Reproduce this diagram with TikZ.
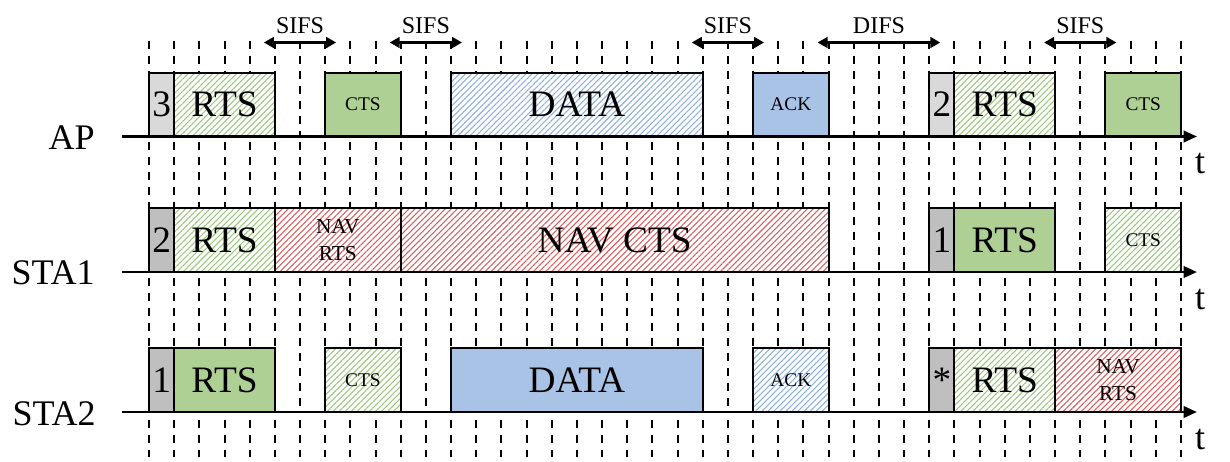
\documentclass[tikz,border=0pt]{standalone}
\usepackage{fontspec}
\setmainfont{Liberation Serif}
\usetikzlibrary{arrows.meta,patterns.meta}
\definecolor{gsolid}{HTML}{AFD095}
\definecolor{bsolid}{HTML}{A9C3E6}
\definecolor{glt}{HTML}{D9D9D9}
\definecolor{gdk}{HTML}{BFBFBF}
\definecolor{ghatch}{HTML}{9CC97F}
\definecolor{bhatch}{HTML}{8FB1E0}
\definecolor{rhatch}{HTML}{D95F5F}
\newcommand\fbig{\fontsize{28}{32}\selectfont}
\newcommand\fsmall{\fontsize{14.5}{17}\selectfont}
\newcommand\fnav{\fontsize{16}{20}\selectfont}
\newcommand\fifs{\fontsize{18}{20}\selectfont}
\newcommand\flab{\fontsize{27}{30}\selectfont}
% name, style, from slot, to slot, centre y, text
\newcommand\blk[6]{\node[#2, minimum width={(#4-#3)*18.8775pt}] (#1) at ({149+12.585*(#3+#4)},#5) {#6};}
\begin{document}
\begin{tikzpicture}[x=0.75pt,y=-0.75pt,
  box/.style={draw=black,line width=1.5pt,inner sep=0pt,minimum height=48pt,align=center,font=\fbig},
  solidg/.style={box,fill=gsolid},
  solidb/.style={box,fill=bsolid},
  hatchg/.style={box,preaction={fill=white},pattern={Lines[angle=45,distance=3.2pt,line width=0.8pt]},pattern color=ghatch},
  hatchb/.style={box,preaction={fill=white},pattern={Lines[angle=45,distance=3.2pt,line width=0.8pt]},pattern color=bhatch},
  hatchr/.style={box,preaction={fill=white},pattern={Lines[angle=45,distance=3.2pt,line width=0.8pt]},pattern color=rhatch},
  backoff/.style={box,fill=glt},
  backoffd/.style={box,fill=gdk},
  gridline/.style={line width=1.5pt,dash pattern=on 6pt off 5.25pt},
  axis/.style={line width=2pt,-{Triangle[length=10pt,width=8.5pt]}},
  ifs/.style={line width=2pt,{Triangle[length=7.5pt,width=8pt]}-{Triangle[length=7.5pt,width=8pt]}},
  ifslab/.style={font=\fifs,inner sep=0pt,anchor=base},
  rowlab/.style={font=\flab,inner sep=0pt,anchor=base east},
  tlab/.style={font=\flab,inner sep=0pt,anchor=base}]
\useasboundingbox (0,0) rectangle (1230,461);

% dashed time grid
\foreach \i in {0,...,41}{
  \draw[gridline] ({149+25.17*\i},40.5) -- ({149+25.17*\i},136);
  \draw[gridline] ({149+25.17*\i},141.5) -- ({149+25.17*\i},272);
  \draw[gridline] ({149+25.17*\i},277.5) -- ({149+25.17*\i},412);
  \draw[gridline] ({149+25.17*\i},419.5) -- ({149+25.17*\i},457);
}

% AP row
\blk{apb}{backoff}{0}{1}{104.5}{3}
\blk{aprts}{hatchg}{1}{5}{104.5}{RTS}
\blk{apcts}{solidg,font=\fsmall}{7}{10}{104.5}{CTS}
\blk{apdata}{hatchb}{12}{22}{104.5}{DATA}
\blk{apack}{solidb,font=\fsmall}{24}{27}{104.5}{ACK}
\blk{apbb}{backoff}{31}{32}{104.5}{2}
\blk{aprtsb}{hatchg}{32}{36}{104.5}{RTS}
\blk{apctsb}{solidg,font=\fsmall}{38}{41}{104.5}{CTS}

% STA1 row
\blk{sab}{backoffd}{0}{1}{240}{2}
\blk{sarts}{hatchg}{1}{5}{240}{RTS}
\blk{sanavr}{hatchr,font=\fnav}{5}{10}{240}{NAV\\RTS}
\blk{sanavc}{hatchr}{10}{27}{240}{NAV CTS}
\blk{sabb}{backoffd}{31}{32}{240}{1}
\blk{sartsb}{solidg}{32}{36}{240}{RTS}
\blk{sacts}{hatchg,font=\fsmall}{38}{41}{240}{CTS}

% STA2 row
\blk{sbb}{backoffd}{0}{1}{380}{1}
\blk{sbrts}{solidg}{1}{5}{380}{RTS}
\blk{sbcts}{hatchg,font=\fsmall}{7}{10}{380}{CTS}
\blk{sbdata}{solidb}{12}{22}{380}{DATA}
\blk{sback}{hatchb,font=\fsmall}{24}{27}{380}{ACK}
\blk{sbbb}{backoffd}{31}{32}{380}{*}
\blk{sbrtsb}{hatchg}{32}{36}{380}{RTS}
\blk{sbnavr}{hatchr,font=\fnav}{36}{41}{380}{NAV\\RTS}

% time axes
\coordinate (apL) at (122,136.5);  \coordinate (apR) at (1197,136.5);
\coordinate (saL) at (122,272);    \coordinate (saR) at (1197,272);
\coordinate (sbL) at (122,412);    \coordinate (sbR) at (1197,412);
\draw[axis] (apL) -- (apR);
\draw[axis] (saL) -- (saR);
\draw[axis] (sbL) -- (sbR);

% row labels
\node[rowlab] (ap) at (95,149) {AP};
\node[rowlab] (sta1) at (95,284.5) {STA1};
\node[rowlab] (sta2) at (96,425) {STA2};
\node[tlab] (ta) at (1200,173) {t};
\node[tlab] (tb) at (1200,309) {t};
\node[tlab] (tc) at (1200,449) {t};

% interframe spaces
\coordinate (i1l) at ({149+25.17*5-11},42.5);  \coordinate (i1r) at ({149+25.17*7+11},42.5);
\coordinate (i2l) at ({149+25.17*10-11},42.5); \coordinate (i2r) at ({149+25.17*12+11},42.5);
\coordinate (i3l) at ({149+25.17*22-11},42.5); \coordinate (i3r) at ({149+25.17*24+11},42.5);
\coordinate (i4l) at ({149+25.17*27-11},42.5); \coordinate (i4r) at ({149+25.17*31+11},42.5);
\coordinate (i5l) at ({149+25.17*36-11},42.5); \coordinate (i5r) at ({149+25.17*38+11},42.5);
\draw[ifs] (i1l) -- (i1r);
\draw[ifs] (i2l) -- (i2r);
\draw[ifs] (i3l) -- (i3r);
\draw[ifs] (i4l) -- (i4r);
\draw[ifs] (i5l) -- (i5r);
\node[ifslab] (l1) at ({149+25.17*6},33) {SIFS};
\node[ifslab] (l2) at ({149+25.17*11},33) {SIFS};
\node[ifslab] (l3) at ({149+25.17*23},33) {SIFS};
\node[ifslab] (l4) at ({149+25.17*29},33) {DIFS};
\node[ifslab] (l5) at ({149+25.17*37},33) {SIFS};
\end{tikzpicture}
\end{document}
